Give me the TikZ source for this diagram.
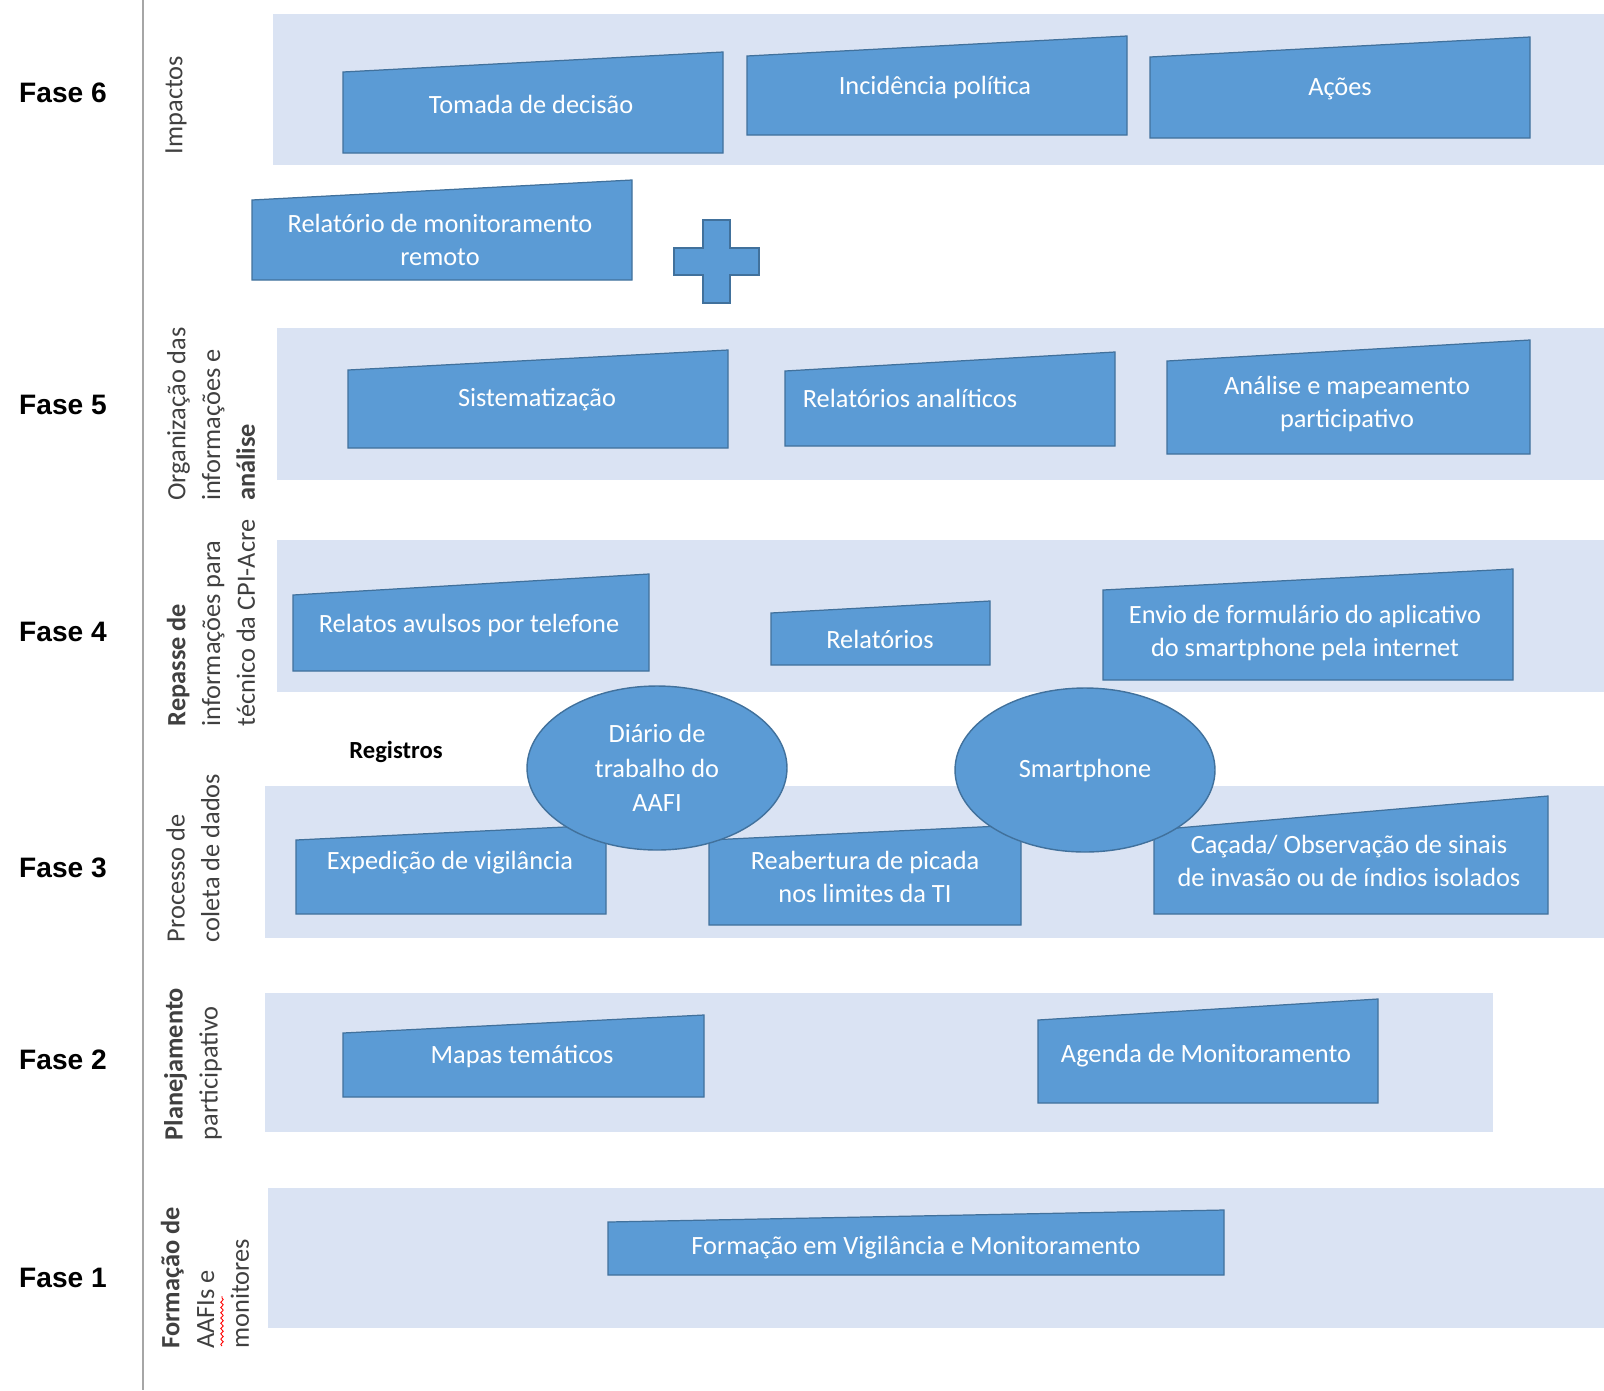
\documentclass[tikz,border=0pt]{standalone}
\usepackage{fontspec}
\setmainfont{Carlito}
\newfontfamily\fasefont{Liberation Sans}
\usetikzlibrary{shapes.geometric,decorations.pathmorphing}

\definecolor{boxblue}{RGB}{91,155,213}
\definecolor{boxedge}{RGB}{65,113,156}
\definecolor{bandblue}{RGB}{218,227,243}

\tikzset{
  band/.style={fill=bandblue, draw=none},
  inbox/.style={fill=boxblue, draw=boxedge, line width=0.7pt},
  boxtext/.style={text=white, align=center, font=\fontsize{15}{19}\selectfont},
  fase/.style={font=\fasefont\bfseries\fontsize{16}{19}\selectfont},
  phase/.style={rotate=90, align=left, text=black!75, inner sep=0pt, font=\fontsize{15}{19.8}\selectfont},
  blob/.style={ellipse, fill=boxblue, draw=boxedge, line width=0.8pt, text=white, align=center,
    minimum width=5.2cm, minimum height=3.28cm, inner sep=0pt, font=\fontsize{15}{19.8}\selectfont}
}

\begin{document}
\begin{tikzpicture}[x=0.02cm, y=-0.02cm]

\useasboundingbox (0,0) rectangle (1604,1390);
\draw[black!35, line width=0.9pt] (143,0) -- (143,1390);

% bands
\fill[band] (273,14)   rectangle (1604,165);
\fill[band] (277,328)  rectangle (1604,480);
\fill[band] (277,540)  rectangle (1604,692);
\fill[band] (265,786)  rectangle (1604,938);
\fill[band] (265,993)  rectangle (1493,1132);
\fill[band] (268,1188) rectangle (1604,1328);

% fase labels
\node[fase] (f6) at (63,93)   {Fase 6};
\node[fase] (f5) at (63,405)  {Fase 5};
\node[fase] (f4) at (63,632)  {Fase 4};
\node[fase] (f3) at (63,868)  {Fase 3};
\node[fase] (f2) at (63,1060) {Fase 2};
\node[fase] (f1) at (63,1278) {Fase 1};

\node[phase] (impactos) at (176,105)  {Impactos};
\node[phase] (organiza) at (211,414)  {Organização das\\informações e\\\textbf{análise}};
\node[phase] (repasse)  at (211,623)  {\textbf{Repasse de}\\informações para\\técnico da CPI-Acre};
\node[phase] (processo) at (193,858)  {Processo de\\coleta de dados};
\node[phase] (planeja)  at (193,1064) {\textbf{Planejamento}\\participativo};
\node[phase] (formacao) at (205,1278) {\textbf{Formação de}\\AAFIs e\\monitores};
\draw[red, line width=0.5pt, decorate, decoration={snake, amplitude=0.7pt, segment length=3pt}]
  (222,1346) -- (222,1296);

% fase 6
\filldraw[inbox] (343,153) -- (343,72) -- (723,52) -- (723,153) -- cycle;
\node[boxtext] (tomada) at (531,104) {Tomada de decisão};

\filldraw[inbox] (747,135) -- (747,56) -- (1127,36) -- (1127,135) -- cycle;
\node[boxtext] (incidencia) at (935,87) {Incidência política};

\filldraw[inbox] (1150,138) -- (1150,57) -- (1530,37) -- (1530,138) -- cycle;
\node[boxtext] (acoes) at (1340,89) {Ações};

% between 6 and 5
\filldraw[inbox] (252,280) -- (252,200) -- (632,180) -- (632,280) -- cycle;
\node[boxtext] (relmonit) at (440,240) {Relatório de monitoramento\\remoto};

\filldraw[inbox] (703,220) -- (730,220) -- (730,248) -- (759,248) -- (759,275) -- (730,275)
  -- (730,303) -- (703,303) -- (703,275) -- (674,275) -- (674,248) -- (703,248) -- cycle;

% fase 5
\filldraw[inbox] (348,448) -- (348,370) -- (728,350) -- (728,448) -- cycle;
\node[boxtext] (sistema) at (537,400) {Sistematização};

\filldraw[inbox] (785,446) -- (785,371) -- (1115,352) -- (1115,446) -- cycle;
\node[boxtext] (relanalit) at (910,398) {Relatórios analíticos};

\filldraw[inbox] (1167,454) -- (1167,361) -- (1530,340) -- (1530,454) -- cycle;
\node[boxtext] (analise) at (1347,404) {Análise e mapeamento\\participativo};

% fase 4
\filldraw[inbox] (293,671) -- (293,595) -- (649,574) -- (649,671) -- cycle;
\node[boxtext] (relatos) at (469,625) {Relatos avulsos por telefone};

\filldraw[inbox] (771,665) -- (771,613) -- (990,601) -- (990,665) -- cycle;
\node[boxtext] (relatorios) at (880,639) {Relatórios};

\filldraw[inbox] (1103,680) -- (1103,590) -- (1513,569) -- (1513,680) -- cycle;
\node[boxtext] (envio) at (1305,633) {Envio de formulário do aplicativo\\do smartphone pela internet};

\node[font=\bfseries\fontsize{14}{17}\selectfont] (registros) at (396,752) {Registros};

% fase 3
\filldraw[inbox] (296,914) -- (296,840) -- (606,825) -- (606,914) -- cycle;
\node[boxtext] (expedicao) at (450,863) {Expedição de vigilância};

\filldraw[inbox] (709,925) -- (709,840) -- (1021,825) -- (1021,925) -- cycle;
\node[boxtext] (reabertura) at (865,877) {Reabertura de picada\\nos limites da TI};

\filldraw[inbox] (1154,914) -- (1154,830) -- (1548,796) -- (1548,914) -- cycle;
\node[boxtext] (cacada) at (1349,861) {Caçada/ Observação de sinais\\de invasão ou de índios isolados};

\node[blob] (diario) at (657,768) {Diário de\\trabalho do\\AAFI};
\node[blob] (smart) at (1085,770) {Smartphone};

% fase 2
\filldraw[inbox] (343,1097) -- (343,1033) -- (704,1015) -- (704,1097) -- cycle;
\node[boxtext] (mapas) at (522,1056) {Mapas temáticos};

\filldraw[inbox] (1038,1103) -- (1038,1020) -- (1378,999) -- (1378,1103) -- cycle;
\node[boxtext] (agenda) at (1206,1056) {Agenda de Monitoramento};

% fase 1
\filldraw[inbox] (608,1275) -- (608,1222) -- (1224,1210) -- (1224,1275) -- cycle;
\node[boxtext] (formvig) at (916,1248) {Formação em Vigilância e Monitoramento};

\end{tikzpicture}
\end{document}
